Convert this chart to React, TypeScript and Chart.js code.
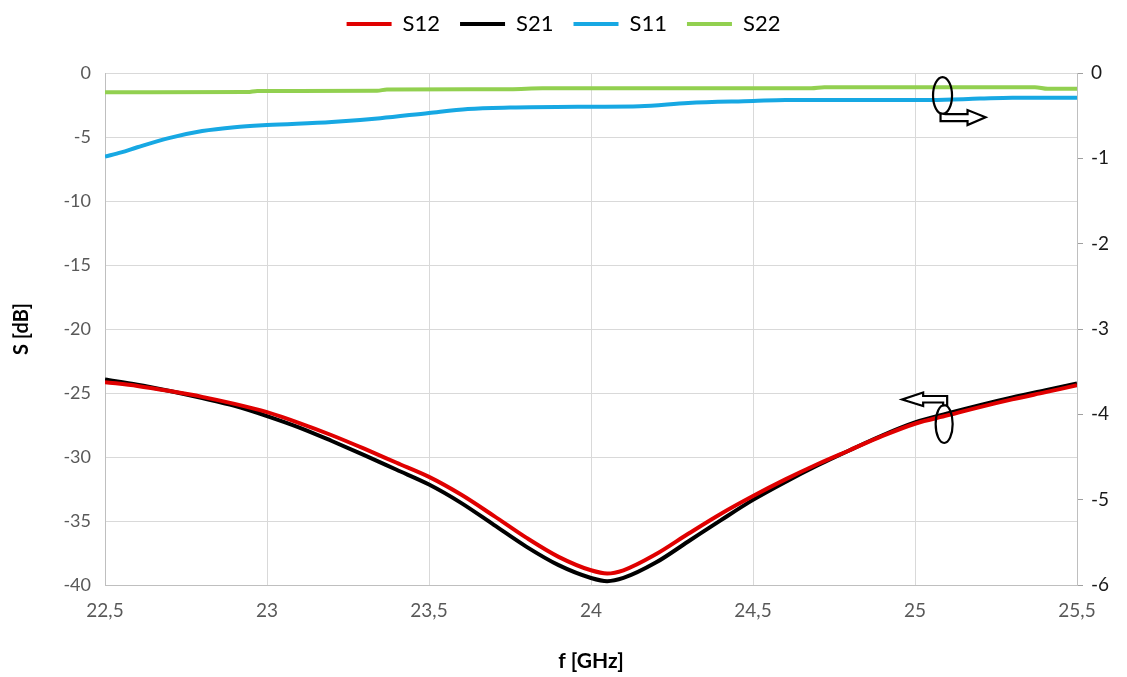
import React, { useEffect, useRef } from "react";
import { Chart, registerables } from "chart.js";

Chart.register(...registerables);

// ---- Data ----
const FREQ = [
  22.5, 22.6, 22.7, 22.8, 22.9, 23.0, 23.1, 23.2, 23.3, 23.4, 23.5, 23.6, 23.7, 23.8, 23.9,
  24.0, 24.05, 24.1, 24.2, 24.3, 24.4, 24.5, 24.6, 24.7, 24.8, 24.9, 25.0, 25.1, 25.2, 25.3, 25.4, 25.5,
];
const S12 = [
  -24.15, -24.45, -24.85, -25.3, -25.85, -26.5, -27.35, -28.3, -29.35, -30.45, -31.55, -32.95, -34.6, -36.3, -37.8,
  -38.85, -39.1, -38.85, -37.6, -36.0, -34.45, -33.05, -31.75, -30.55, -29.45, -28.35, -27.4, -26.75, -26.1, -25.5, -24.95, -24.4,
];
const S21 = [
  -23.95, -24.35, -24.85, -25.4, -26.0, -26.8, -27.7, -28.75, -29.85, -31.0, -32.15, -33.6, -35.3, -37.0, -38.45,
  -39.45, -39.7, -39.45, -38.25, -36.6, -34.95, -33.35, -31.95, -30.65, -29.45, -28.3, -27.3, -26.6, -25.95, -25.35, -24.8, -24.25,
];
const S11_FREQ = [22.5, 22.55, 22.6, 22.7, 22.8, 22.9, 23.0, 23.2, 23.35, 23.5, 23.62, 23.75, 24.0, 24.15, 24.3, 24.5, 24.6, 25.05, 25.2, 25.3, 25.5];
const S11 = [-0.98, -0.93, -0.87, -0.76, -0.68, -0.635, -0.61, -0.575, -0.53, -0.468, -0.422, -0.405, -0.395, -0.39, -0.352, -0.328, -0.316, -0.316, -0.3, -0.29, -0.289];
const S22_FREQ = [22.5, 22.94, 22.97, 23.34, 23.37, 23.75, 23.85, 24.68, 24.72, 25.37, 25.41, 25.5];
const S22 = [-0.225, -0.224, -0.21, -0.209, -0.192, -0.19, -0.18, -0.179, -0.167, -0.166, -0.186, -0.186];

const X_TICK_MIN = 22.5;
const X_TICK_MAX = 25.5;
const X_STEP = 0.5;
const LEFT_MIN = -40;
const LEFT_MAX = 0;
const LEFT_STEP = 5;
const RIGHT_MIN = -6;
const RIGHT_MAX = 0;
const RIGHT_STEP = 1;

const FONT = "Lato, 'Open Sans', 'DejaVu Sans', sans-serif";

const pts = (xs: number[], ys: number[]) => xs.map((x, i) => ({ x, y: ys[i] }));

const annotationPlugin = {
  id: "ellipseArrows",
  afterDatasetsDraw(chart: any) {
    const { ctx, scales } = chart;
    const xs = scales.x;
    const yl = scales.y;
    const yr = scales.y1;
    ctx.save();
    ctx.strokeStyle = "#000";
    ctx.lineWidth = 2.2;
    ctx.fillStyle = "#fff";

    // Ellipse around S11/S22 with arrow to the right axis
    let cx = xs.getPixelForValue(25.085);
    let cy = yr.getPixelForValue(-0.264);
    ctx.beginPath();
    ctx.ellipse(cx, cy, 9.5, 18.5, 0, 0, Math.PI * 2);
    ctx.stroke();
    ctx.beginPath();
    ctx.moveTo(cx - 2, cy + 18);
    ctx.lineTo(cx - 2, cy + 25.5);
    ctx.lineTo(cx + 25, cy + 25.5);
    ctx.lineTo(cx + 25, cy + 29.5);
    ctx.lineTo(cx + 43, cy + 21.7);
    ctx.lineTo(cx + 25, cy + 14.5);
    ctx.lineTo(cx + 25, cy + 18.5);
    ctx.lineTo(cx + 3, cy + 18.5);
    ctx.closePath();
    ctx.fill();
    ctx.stroke();

    // Ellipse around S12/S21 with arrow to the left axis
    cx = xs.getPixelForValue(25.09);
    cy = yl.getPixelForValue(-27.42);
    ctx.beginPath();
    ctx.ellipse(cx, cy, 8.5, 19, 0, 0, Math.PI * 2);
    ctx.stroke();
    ctx.beginPath();
    ctx.moveTo(cx + 3, cy - 19);
    ctx.lineTo(cx + 3, cy - 28);
    ctx.lineTo(cx - 21, cy - 28);
    ctx.lineTo(cx - 21, cy - 31.5);
    ctx.lineTo(cx - 42, cy - 24.5);
    ctx.lineTo(cx - 21, cy - 18);
    ctx.lineTo(cx - 21, cy - 21.5);
    ctx.lineTo(cx - 1, cy - 21.5);
    ctx.lineTo(cx - 1, cy - 18.5);
    ctx.closePath();
    ctx.fill();
    ctx.stroke();
    ctx.restore();
  },
};

const legendSpacer = {
  id: "legendSpacer",
  afterInit(chart: any) {
    const lg = chart.legend;
    if (!lg) return;
    const orig = lg.fit;
    lg.fit = function () {
      orig.call(this);
      this.height = 80;
    };
  },
};

export default function App() {
  const ref = useRef<HTMLCanvasElement | null>(null);
  useEffect(() => {
    if (!ref.current) return;
    const common = { pointRadius: 0, borderWidth: 4, cubicInterpolationMode: "monotone" as const, fill: false };
    const chart = new Chart(ref.current, {
      type: "line",
      data: {
        datasets: [
          { label: "S12", data: pts(FREQ, S12), borderColor: "#E00000", backgroundColor: "#E00000", yAxisID: "y", ...common },
          { label: "S21", data: pts(FREQ, S21), borderColor: "#000000", backgroundColor: "#000000", yAxisID: "y", ...common },
          { label: "S11", data: pts(S11_FREQ, S11), borderColor: "#17A8E3", backgroundColor: "#17A8E3", yAxisID: "y1", ...common },
          { label: "S22", data: pts(S22_FREQ, S22), borderColor: "#92D050", backgroundColor: "#92D050", yAxisID: "y1", ...common },
        ],
      },
      options: {
        responsive: false,
        animation: false,
        layout: { padding: { top: -7, left: 0, right: 0, bottom: 0 } },
        plugins: {
          legend: {
            position: "top",
            labels: {
              usePointStyle: true,
              pointStyle: "line",
              pointStyleWidth: 45,
              boxHeight: 4,
              padding: 20,
              color: "#000",
              font: { family: FONT, size: 22 },
            },
          },
          tooltip: { enabled: false },
        },
        scales: {
          x: {
            type: "linear",
            min: X_TICK_MIN,
            max: X_TICK_MAX,
            afterFit: (s: any) => { s.height = 92; },
            ticks: {
              stepSize: X_STEP,
              padding: 14,
              color: "#595959",
              font: { family: FONT, size: 19 },
              callback: (v: any) => String(v).replace(".", ","),
            },
            grid: { color: "#D9D9D9", lineWidth: 1, drawTicks: false },
            border: { color: "#BFBFBF" },
            title: {
              display: true,
              text: "f [GHz]",
              color: "#000",
              font: { family: FONT, size: 21, weight: "bold" },
              padding: { top: 0, bottom: 3 },
            },
          },
          y: {
            type: "linear",
            position: "left",
            min: LEFT_MIN,
            max: LEFT_MAX,
            afterFit: (s: any) => { s.width = 105; },
            ticks: { stepSize: LEFT_STEP, padding: 14, color: "#595959", font: { family: FONT, size: 18 } },
            grid: { color: "#D9D9D9", lineWidth: 1, drawTicks: false },
            border: { color: "#BFBFBF" },
            title: {
              display: true,
              text: "S [dB]",
              color: "#000",
              font: { family: FONT, size: 20, weight: "bold" },
              padding: { top: 10, bottom: 0 },
            },
          },
          y1: {
            type: "linear",
            position: "right",
            min: RIGHT_MIN,
            max: RIGHT_MAX,
            afterFit: (s: any) => { s.width = 50; },
            ticks: { stepSize: RIGHT_STEP, padding: 8, color: "#1a1a1a", font: { family: FONT, size: 19 } },
            grid: { drawOnChartArea: false, drawTicks: true, tickLength: 6, color: "#9F9F9F" },
            border: { color: "#BFBFBF" },
          },
        },
      },
      plugins: [annotationPlugin, legendSpacer],
    });
    return () => chart.destroy();
  }, []);
  return (
    <div style={{ position: "fixed", left: 0, top: 0, width: 1127, height: 677, background: "#fff" }}>
      <canvas ref={ref} width={1127} height={677} style={{ display: "block" }} />
    </div>
  );
}
